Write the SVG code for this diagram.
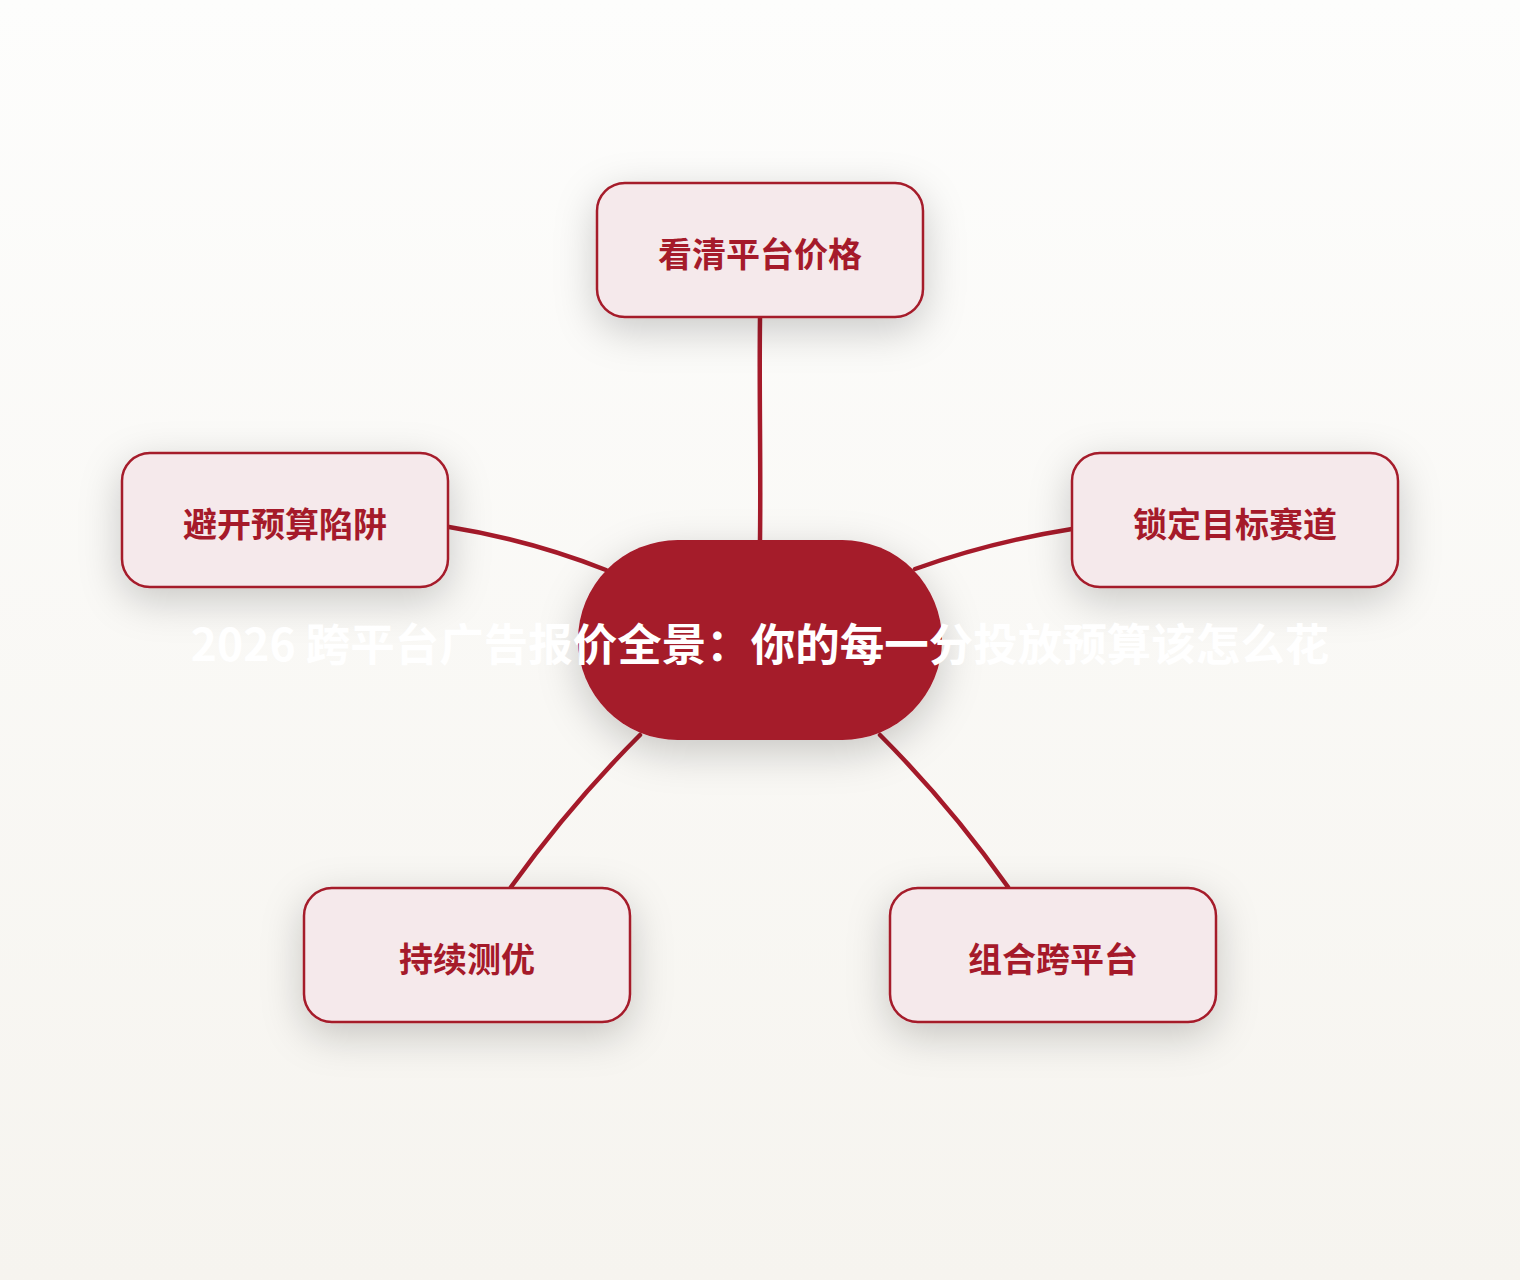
<svg xmlns="http://www.w3.org/2000/svg" width="1520" height="1280" viewBox="0 0 1520 1280">
<defs>
<linearGradient id="bg" x1="0" y1="0" x2="0" y2="1">
<stop offset="0" stop-color="#FDFDFC"/>
<stop offset="1" stop-color="#F6F4EF"/>
</linearGradient>
<filter id="sh" x="-40%" y="-50%" width="180%" height="210%">
<feDropShadow dx="0" dy="12" stdDeviation="20" flood-color="#000" flood-opacity="0.2"/>
</filter>
</defs>
<style>
.node rect{fill:#F5E9EB;stroke:#A51A2A;stroke-width:2.5;filter:url(#sh)}
.node text{font-family:"Noto Sans CJK SC","Noto Sans",sans-serif;font-weight:700;font-size:34px;fill:#A51A2A;text-anchor:middle;dominant-baseline:central}
.edge{fill:none;stroke:#A51A2A;stroke-width:4.5;stroke-linecap:round}
.title{font-family:"Noto Sans CJK SC","Noto Sans",sans-serif;font-weight:700;font-size:44.5px;fill:#FFFFFF;text-anchor:middle;dominant-baseline:central}
</style>
<rect width="1520" height="1280" fill="url(#bg)"/>
<g id="connectors">
<path class="edge" d="M760,318 C759,400 761,460 760,540"/>
<path class="edge" d="M449,527 Q530,540 606,570"/>
<path class="edge" d="M1072,529 Q990,542 915,569"/>
<path class="edge" d="M640,735 Q570,805 511,887"/>
<path class="edge" d="M880,735 Q950,805 1008,887"/>
</g>
<g id="center">
<rect x="578" y="540" width="364" height="200" rx="100" fill="#A51A2A" filter="url(#sh)"/>
</g>
<g id="n-top" class="node">
<rect x="597" y="183" width="326" height="134" rx="28"/>
<text x="760" y="252">看清平台价格</text>
</g>
<g id="n-left" class="node">
<rect x="122" y="453" width="326" height="134" rx="28"/>
<text x="285" y="522">避开预算陷阱</text>
</g>
<g id="n-right" class="node">
<rect x="1072" y="453" width="326" height="134" rx="28"/>
<text x="1235" y="522">锁定目标赛道</text>
</g>
<g id="n-bl" class="node">
<rect x="304" y="888" width="326" height="134" rx="28"/>
<text x="467" y="957">持续测优</text>
</g>
<g id="n-br" class="node">
<rect x="890" y="888" width="326" height="134" rx="28"/>
<text x="1053" y="957">组合跨平台</text>
</g>
<text class="title" x="760" y="641">2026 跨平台广告报价全景：你的每一分投放预算该怎么花</text>
</svg>
